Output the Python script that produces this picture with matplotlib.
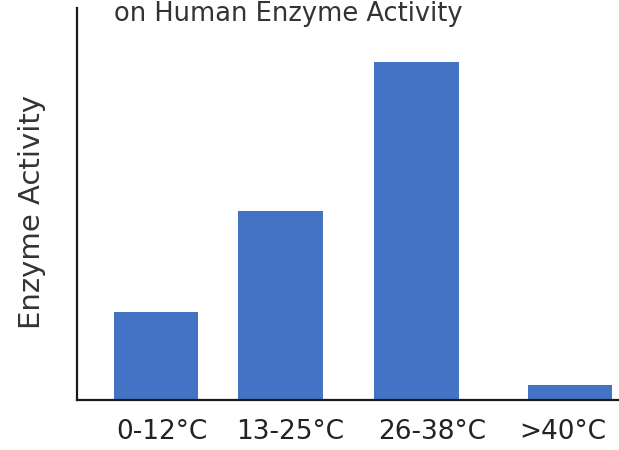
import matplotlib.pyplot as plt

# data (arbitrary activity units, peak = 100)
temps = ['0-12°C', '13-25°C', '26-38°C', '>40°C']
activity = [26, 56, 100, 4.5]

# layout: bar centres and label centres (bars are not evenly spaced in the original)
bar_pos = [0, 0.9, 1.89, 3.0]
label_pos = [0.04, 0.97, 2.0, 2.95]

plt.rcParams['font.family'] = ['DejaVu Sans']

fig = plt.figure(figsize=(6.19, 4.5), dpi=100)
ax = fig.add_axes([77/619, 50/450, 542/619, 392/450])

ax.bar(bar_pos, activity, width=0.615, color='#4472C4')

ax.set_xlim(-0.572, 3.355)
ax.set_ylim(0, 116)
ax.set_xticks(label_pos)
ax.set_xticklabels(temps, fontsize=19, color='#222222')
ax.tick_params(axis='x', length=0, pad=14)
ax.set_yticks([])
ax.set_ylabel('Enzyme Activity', fontsize=21, color='#333333')
ax.yaxis.set_label_coords(-0.058, 0.48)

for s in ['top', 'right']:
    ax.spines[s].set_visible(False)
for s in ['left', 'bottom']:
    ax.spines[s].set_linewidth(1.6)
    ax.spines[s].set_color('#1a1a1a')

fig.text(288/619, 1 - 1/450, 'on Human Enzyme Activity', fontsize=18.5,
         ha='center', va='top', color='#333333')

fig.savefig('out.png', dpi=100)
